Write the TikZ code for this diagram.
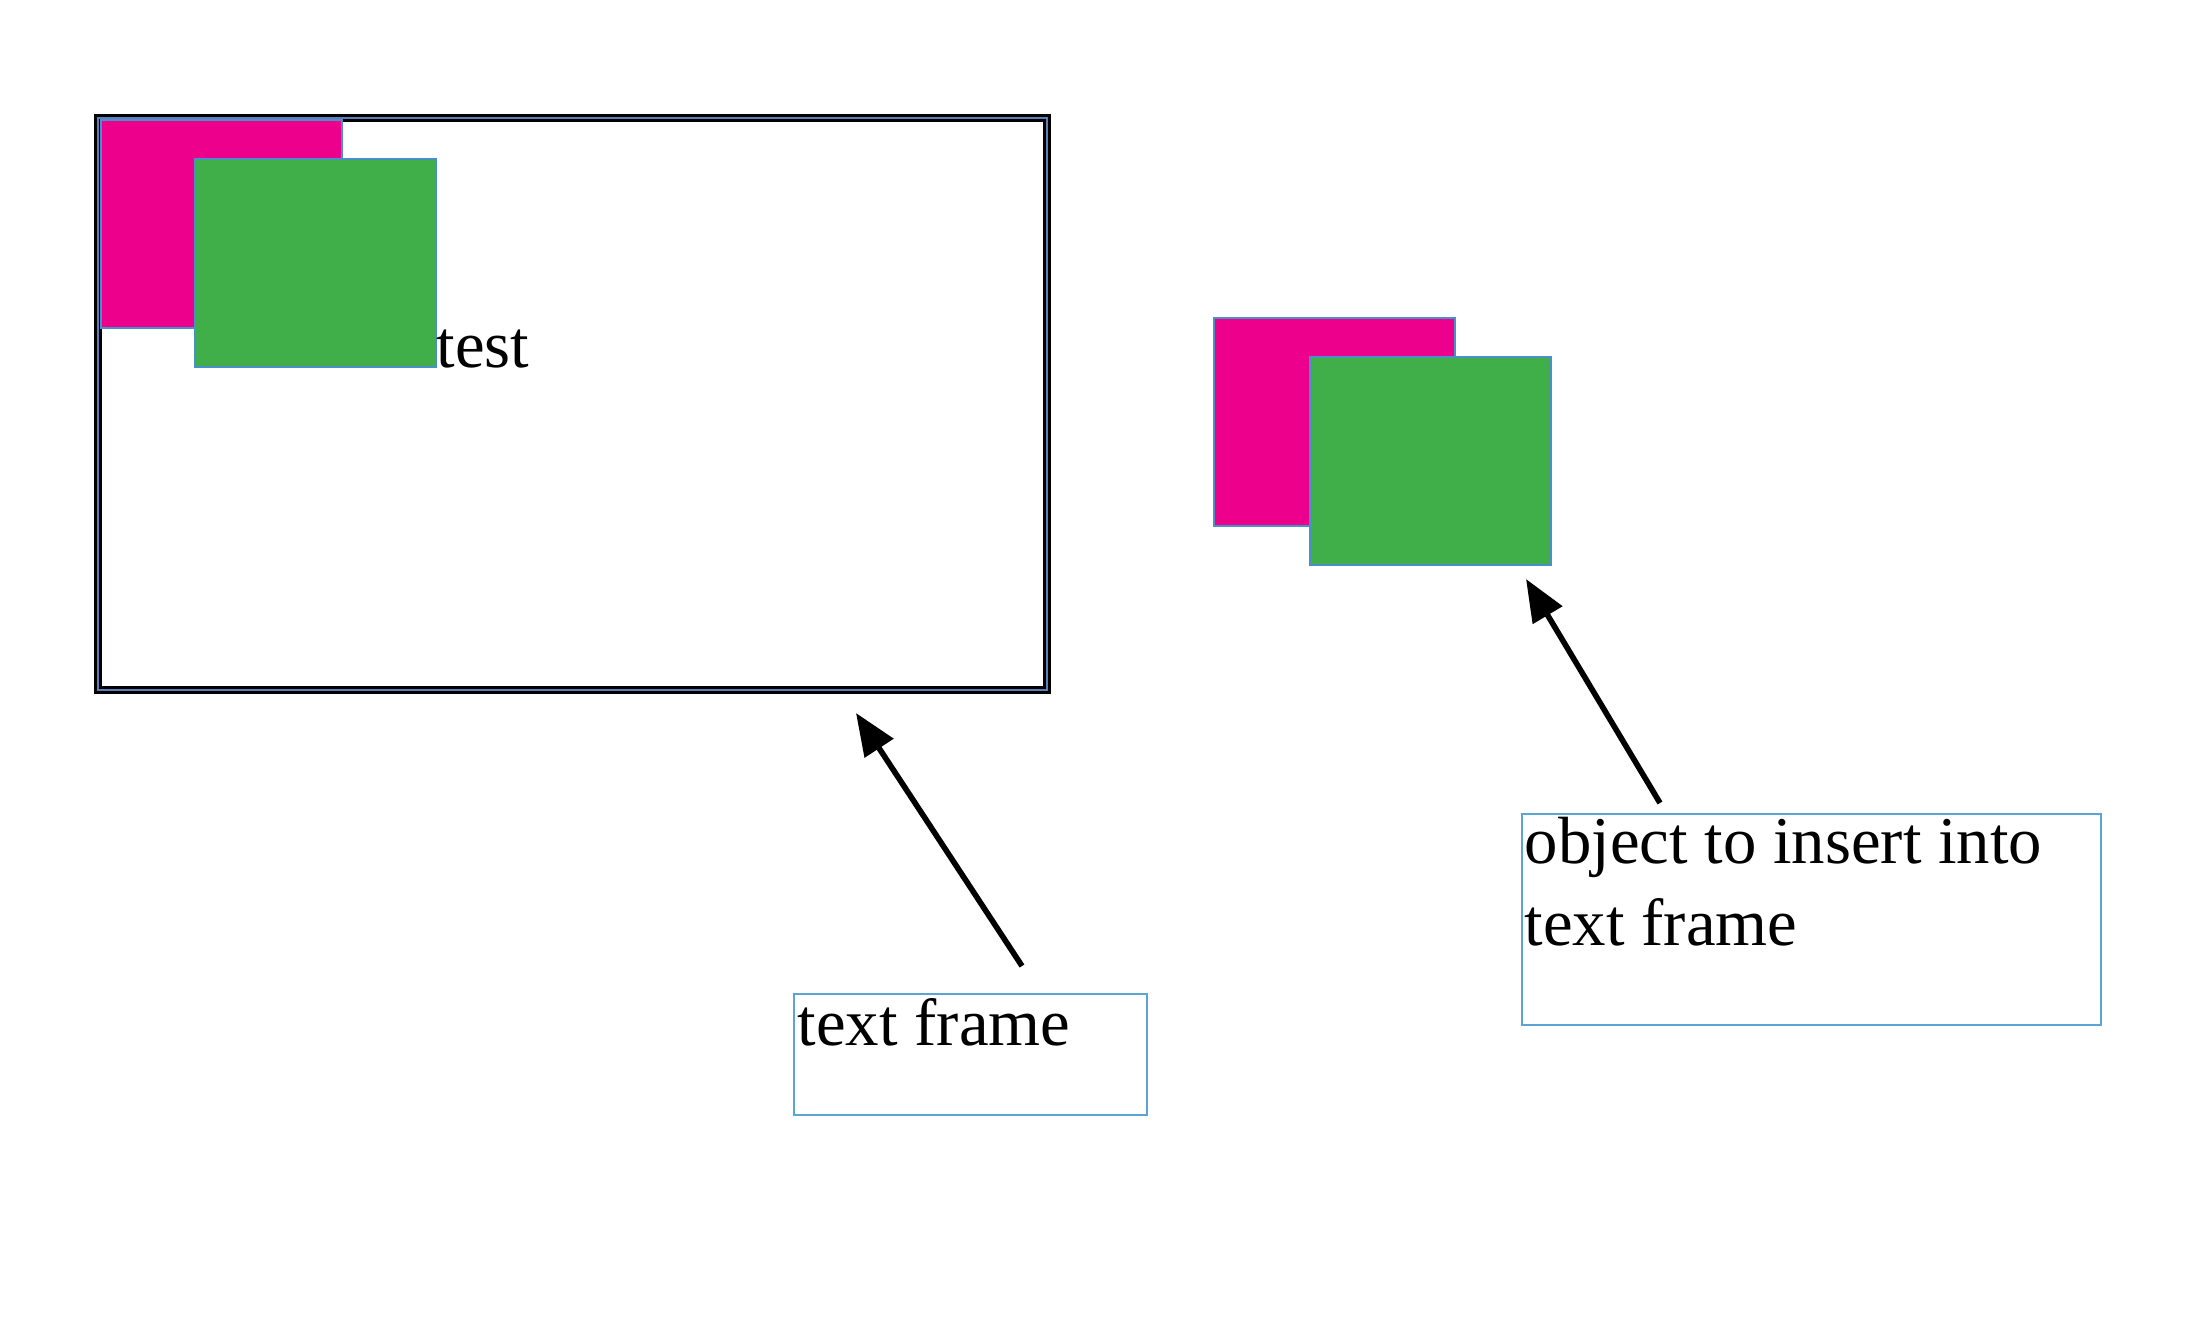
\documentclass[tikz,border=0pt]{standalone}
\usepackage{fontspec}
\setmainfont{Liberation Serif}
\usepackage{tikz}
\usetikzlibrary{positioning,arrows.meta}

\definecolor{magentabox}{HTML}{EC008C}
\definecolor{greenbox}{HTML}{40AE49}
\definecolor{selblue}{HTML}{4A90C8}
\definecolor{capblue}{HTML}{5BA4D4}
\definecolor{framedouble}{HTML}{5B7FB8}

\tikzset{
	square/.style={draw=selblue, line width=0.3pt, minimum width=2.41cm, minimum height=2.08cm, inner sep=0pt, outer sep=0pt},
	capbox/.style={draw=capblue, line width=0.4pt, inner sep=0pt, outer sep=0pt},
	captext/.style={inner sep=0pt, align=left, font=\fontsize{19pt}{23.6pt}\selectfont},
	pointer/.style={-{Triangle[length=12pt,width=9.5pt]}, line width=1.6pt}
}

\begin{document}
\begin{tikzpicture}
		\useasboundingbox (0,0) rectangle (22.04,-13.22);
		
		% Text frame
		\node [draw=black,
		double=framedouble,
		double distance=0.4pt,
		line width=0.8pt,
		minimum width=9.49cm,
		minimum height=5.72cm,
		inner sep=0pt,
		outer sep=0pt,
		anchor=north west
		] (frame) at (0.98,-1.18) {};
		
		% Objects already in the frame
		\node [square,
		fill=magentabox,
		below right=0.02cm and 0.03cm of frame.north west
		] (magIn) {};
		
		\node [square,
		fill=greenbox,
		below right=0.39cm and 0.94cm of magIn.north west
		] (greenIn) {};
		
		\node [captext, anchor=base west] (test) at (greenIn.south east) {test};
		
		% Object to insert
		\node [square,
		fill=magentabox,
		anchor=north west
		] (magOut) at (12.14,-3.18) {};
		
		\node [square,
		fill=greenbox,
		below right=0.39cm and 0.96cm of magOut.north west
		] (greenOut) {};
		
		% Caption boxes
		\node [capbox,
		minimum width=3.53cm,
		minimum height=1.21cm,
		anchor=north west
		] (capA) at (7.94,-9.94) {};
		\node [captext, anchor=north west] (capAtext) at ([shift={(0.03,-0.04)}]capA.north west) {text frame};
		
		\node [capbox,
		minimum width=5.79cm,
		minimum height=2.11cm,
		anchor=north west
		] (capB) at (15.22,-8.14) {};
		\node [captext, anchor=north west] (capBtext) at ([shift={(0.02,-0.02)}]capB.north west) {object to insert into\\text frame};
		
		% Arrows
		\coordinate (tailA) at ([shift={(2.28,0.28)}]capA.north west);
		\coordinate (tipA) at ([shift={(-1.91,-0.23)}]frame.south east);
		\coordinate (tailB) at ([shift={(1.38,0.11)}]capB.north west);
		\coordinate (tipB) at ([shift={(-0.25,-0.14)}]greenOut.south east);
		
		\draw [pointer] (tailA) -- (tipA);
		
		\draw [pointer] (tailB) -- (tipB);
		
\end{tikzpicture}
\end{document}
